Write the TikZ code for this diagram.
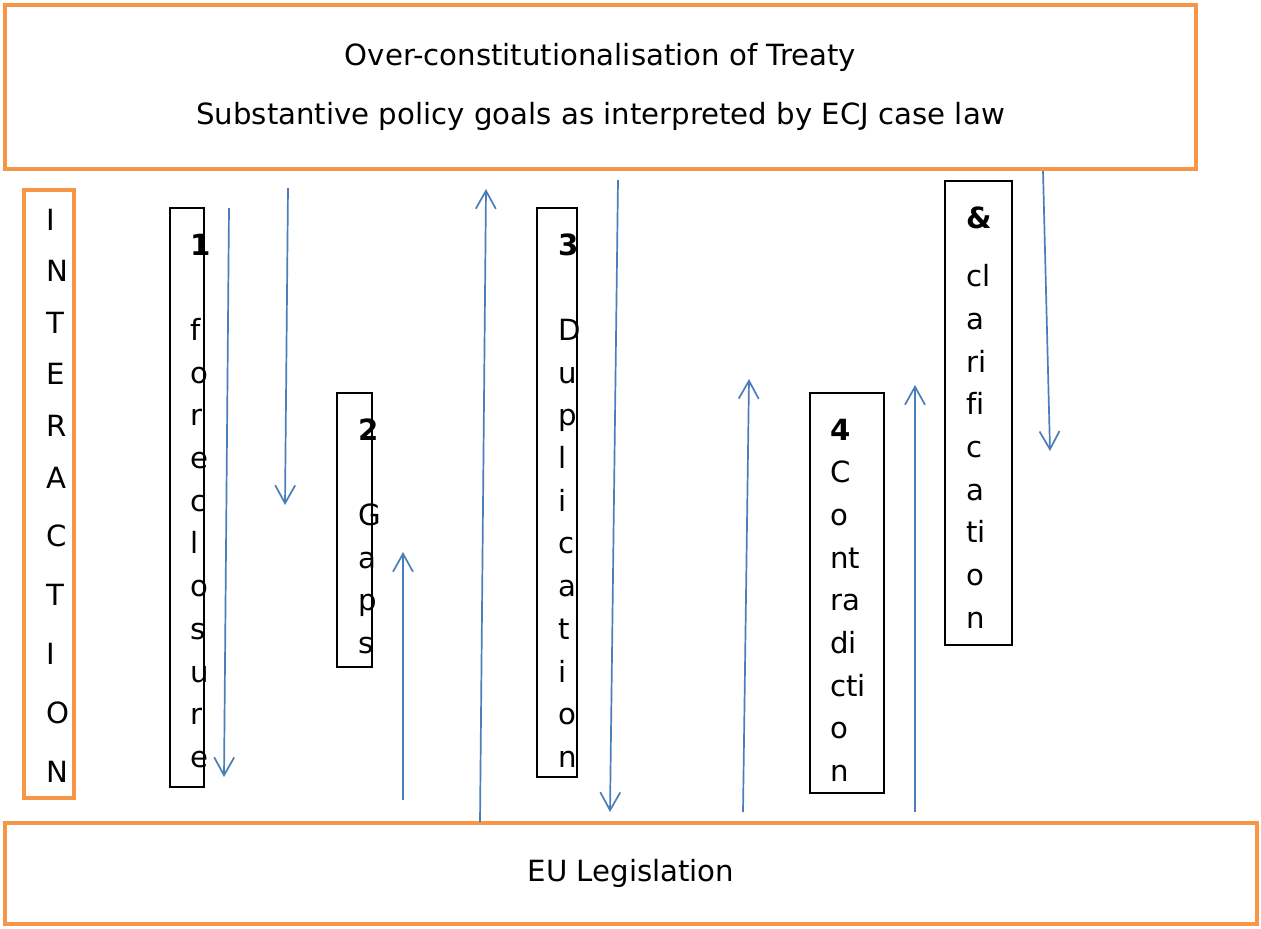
\documentclass[tikz,border=0pt]{standalone}
\usepackage{fontspec}
\setmainfont{DejaVu Sans}
\usetikzlibrary{arrows.meta}
\definecolor{frame}{HTML}{F79646}
\definecolor{arrowblue}{HTML}{4A7EBB}
\hfuzz=\maxdimen
\hbadness=10000
% column of letters: width, height, left gap, baselineskip, text
\newcommand{\colbox}[5]{\parbox[c][#2][t]{#1}{\fontsize{14.6}{#4}\selectfont\raggedright\leftskip=#3\relax #5}}

\begin{document}
\begin{tikzpicture}[x=0.5pt, y=-0.5pt, >={Straight Barb[length=9pt,width=10pt]}]
  \tikzstyle{band}=[draw=frame, line width=2pt, inner sep=0pt, font=\fontsize{14.6}{29.5}\selectfont, align=center]
  \tikzstyle{slim}=[draw, line width=0.6pt, inner sep=0pt]
  \tikzstyle{link}=[arrowblue, line width=0.85pt, ->]

\useasboundingbox (0,0) rectangle (1261,928);

\node [band, minimum width=595.5pt, minimum height=82pt] (treaty) at (600.5,87)
  {Over-constitutionalisation of Treaty\\Substantive policy goals as interpreted by ECJ case law};
\node [band, minimum width=626pt, minimum height=50.5pt] (legis) at (631,873.5) {EU Legislation};

\node [band, align=left] (inter) at (49,494)
  {\colbox{25pt}{304pt}{11pt}{25.8pt}{\rule{0pt}{20pt}I\\N\\T\\E\\R\\A\\[3.6pt]C\\[3.6pt]T\\[3.6pt]I\\[3.6pt]O\\[3.6pt]N}};

\node [slim] (fore) at (187,497.5)
  {\colbox{17pt}{289.5pt}{10pt}{21.35pt}{\rule{0pt}{23.5pt}\textbf{1}\\[21.35pt]f\\o\\r\\e\\c\\l\\o\\s\\u\\r\\e}};
\node [slim] (gaps) at (354.5,530)
  {\colbox{17.5pt}{137pt}{10.5pt}{21.35pt}{\rule{0pt}{23.5pt}\textbf{2}\\[21.35pt]G\\a\\p\\s}};
\node [slim] (dupl) at (557,492.5)
  {\colbox{20pt}{284.5pt}{10.5pt}{21.35pt}{\rule{0pt}{23.5pt}\textbf{3}\\[21.35pt]D\\u\\p\\l\\i\\c\\a\\t\\i\\o\\n}};
\node [slim] (contra) at (847,593)
  {\colbox{37pt}{200pt}{10pt}{21.35pt}{\rule{0pt}{23.5pt}\textbf{4}\\C\\o\\nt\\ra\\di\\cti\\o\\n}};
\node [slim] (clar) at (978.5,413)
  {\colbox{33.5pt}{232pt}{10.5pt}{21.35pt}{\rule{0pt}{23.5pt}\textbf{\&}\\[8pt]cl\\a\\ri\\f\kern0pt i\\c\\a\\ti\\o\\n}};

% arrow ends
\coordinate (d1a) at (229,208);  \coordinate (d1b) at (224,777);
\coordinate (d2a) at (288,188);  \coordinate (d2b) at (285,505);
\coordinate (u1a) at (403,800);  \coordinate (u1b) at (403,552);
\coordinate (u2a) at (480,822);  \coordinate (u2b) at (486,189);
\coordinate (d3a) at (618,180);  \coordinate (d3b) at (610,812);
\coordinate (u3a) at (743,812);  \coordinate (u3b) at (749,379);
\coordinate (u4a) at (915,812);  \coordinate (u4b) at (915,385);
\coordinate (d4a) at (1043,171); \coordinate (d4b) at (1050,451);

\draw[link] (d1a) -- (d1b);
\draw[link] (d2a) -- (d2b);
\draw[link] (u1a) -- (u1b);
\draw[link] (u2a) -- (u2b);
\draw[link] (d3a) -- (d3b);
\draw[link] (u3a) -- (u3b);
\draw[link] (u4a) -- (u4b);
\draw[link] (d4a) -- (d4b);

\end{tikzpicture}
\end{document}
